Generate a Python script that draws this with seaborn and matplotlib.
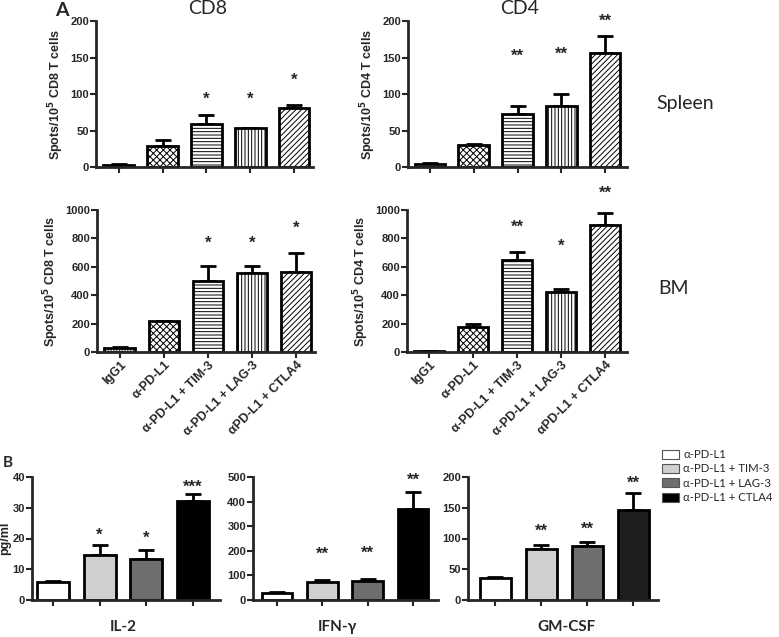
import numpy as np
import pandas as pd
import seaborn as sns
import matplotlib.pyplot as plt
from matplotlib.patches import Patch

# panel A categories
groups = ["IgG1", "α-PD-L1", "α-PD-L1 + TIM-3", "α-PD-L1 + LAG-3", "αPD-L1 + CTLA4"]
hatches = ["......", "xxxxx", "-----", "|||||", "//////"]

cd8_spleen = [3, 29, 59, 53, 81]
cd8_spleen_err = [0.5, 8, 12, 1, 4]
cd8_spleen_sig = ["", "", "*", "*", "*"]
cd8_spleen_sig_y = [0, 0, 93, 93, 119]

cd4_spleen = [4, 30, 73, 84, 156]
cd4_spleen_err = [1, 2, 10, 16, 24]
cd4_spleen_sig = ["", "", "**", "**", "**"]
cd4_spleen_sig_y = [0, 0, 152, 155, 200]

cd8_bm = [28, 218, 500, 555, 565]
cd8_bm_err = [4, 3, 105, 50, 133]
cd8_bm_sig = ["", "", "*", "*", "*"]
cd8_bm_sig_y = [0, 0, 765, 765, 870]

cd4_bm = [8, 176, 651, 426, 893]
cd4_bm_err = [2, 18, 52, 19, 86]
cd4_bm_sig = ["", "", "**", "*", "**"]
cd4_bm_sig_y = [0, 0, 880, 745, 1120]

# panel B
treatments = ["α-PD-L1", "α-PD-L1 + TIM-3", "α-PD-L1 + LAG-3", "α-PD-L1 + CTLA4"]
cytokines = ["IL-2", "IFN-γ", "GM-CSF"]
colors_b = ["white", "#cfcfcf", "#6e6e6e", "black"]

il2 = [5.8, 14.5, 13.3, 32.3]
il2_err = [0.3, 3.5, 3.0, 2.3]
il2_sig = ["", "*", "*", "***"]
il2_sig_y = [0, 21, 20, 36.5]

ifng = [28, 75, 78, 370]
ifng_err = [4, 8, 8, 70]
ifng_sig = ["", "**", "**", "**"]
ifng_sig_y = [0, 185, 188, 488]

gmcsf = [36, 83, 88, 147]
gmcsf_err = [2, 7, 6, 27]
gmcsf_sig = ["", "**", "**", "**"]
gmcsf_sig_y = [0, 112, 115, 190]

sns.set_style("ticks")
plt.rcParams["font.family"] = ["Liberation Sans", "DejaVu Sans"]
plt.rcParams["font.weight"] = "bold"
plt.rcParams["hatch.linewidth"] = 0.7
plt.rcParams["axes.linewidth"] = 2

W, H = 779, 637
fig = plt.figure(figsize=(W / 100, H / 100), dpi=100)
CAL = ["Lato", "DejaVu Sans"]


def make_ax(left, right, top, bottom):
    return fig.add_axes([left / W, 1 - bottom / H, (right - left) / W, (bottom - top) / H])


def draw(ax, cats, vals, errs, sig, sig_y, colors, hatch_list, ymax, yticks, xlim, width):
    df = pd.DataFrame({"cat": cats, "val": vals})
    sns.barplot(df, x="cat", y="val", hue="cat", palette=colors, legend=False,
                edgecolor="black", linewidth=2, width=width, ax=ax, zorder=2)
    if hatch_list:
        for p, h in zip(ax.patches, hatch_list):
            p.set_hatch(h)
    x = np.arange(len(vals))
    ax.errorbar(x, vals, yerr=[np.zeros(len(vals)), errs], fmt="none", ecolor="black",
                elinewidth=2, capsize=5.5, capthick=2, zorder=1)
    for xi, s, yy in zip(x, sig, sig_y):
        if s:
            ax.text(xi, yy, s, ha="center", va="center", fontsize=12, fontweight="bold")
    ax.set_ylim(0, ymax)
    ax.set_yticks(yticks, [str(t) for t in yticks], fontweight="bold", fontsize=8)
    ax.set_xlim(*xlim)
    ax.set(xlabel="", ylabel="")
    sns.despine(ax=ax)
    ax.tick_params(axis="both", length=4, width=1.5, pad=1)


white5 = ["white"] * 5
# A, spleen row
ax1 = make_ax(96, 313, 21, 167)
draw(ax1, groups, cd8_spleen, cd8_spleen_err, cd8_spleen_sig, cd8_spleen_sig_y, white5, hatches,
     200, [0, 50, 100, 150, 200], (-0.52, 4.43), 0.7)

ax2 = make_ax(408, 627, 21, 167)
draw(ax2, groups, cd4_spleen, cd4_spleen_err, cd4_spleen_sig, cd4_spleen_sig_y, white5, hatches,
     200, [0, 50, 100, 150, 200], (-0.5, 4.5), 0.7)

# A, BM row
ax3 = make_ax(97, 315, 210, 352)
draw(ax3, groups, cd8_bm, cd8_bm_err, cd8_bm_sig, cd8_bm_sig_y, white5, hatches,
     1000, [0, 200, 400, 600, 800, 1000], (-0.52, 4.43), 0.7)

ax4 = make_ax(407, 627, 210, 352)
draw(ax4, groups, cd4_bm, cd4_bm_err, cd4_bm_sig, cd4_bm_sig_y, white5, hatches,
     1000, [0, 200, 400, 600, 800, 1000], (-0.5, 4.5), 0.7)

for ax in (ax1, ax2):
    ax.set_xticks(range(len(groups)), [""] * len(groups))
for ax in (ax3, ax4):
    ax.set_xticks(range(len(groups)), groups, rotation=45, ha="right", rotation_mode="anchor",
                  fontsize=9, fontweight="bold")
for ax, cell in zip((ax1, ax2, ax3, ax4), ["CD8", "CD4", "CD8", "CD4"]):
    ax.set_ylabel(f"Spots/10$^\\mathbf{{5}}$ {cell} T cells", fontsize=9, fontweight="bold", labelpad=3)

# B row
ax5 = make_ax(32, 220, 477, 600)
draw(ax5, treatments, il2, il2_err, il2_sig, il2_sig_y, colors_b, None,
     40, [0, 10, 20, 30, 40], (-0.45, 3.58), 0.68)
ax5.set_ylabel("pg/ml", fontsize=9, fontweight="bold")
ax5.yaxis.set_label_coords(-0.11, 0.5)

ax6 = make_ax(253, 438, 477, 600)
draw(ax6, treatments, ifng, ifng_err, ifng_sig, ifng_sig_y, colors_b, None,
     500, [0, 100, 200, 300, 400, 500], (-0.53, 3.55), 0.68)

ax7 = make_ax(468, 658, 477, 600)
draw(ax7, treatments, gmcsf, gmcsf_err, gmcsf_sig, gmcsf_sig_y, ["white", "#cfcfcf", "#6e6e6e", "#1e1e1e"], None,
     200, [0, 50, 100, 150, 200], (-0.59, 3.54), 0.68)

for ax, name, xc in zip((ax5, ax6, ax7), cytokines, [123, 337, 567]):
    ax.set_xticks(range(len(treatments)), [""] * len(treatments))
    fig.text(xc / W, 1 - 627 / H, name, fontsize=11, fontweight="bold", family=CAL,
             ha="center", va="center")

# titles and panel letters
for txt, xc, yc in [("CD8", 208, 9), ("CD4", 520, 9), ("Spleen", 685, 104), ("BM", 673, 288)]:
    fig.text(xc / W, 1 - yc / H, txt, fontsize=14, ha="center", va="center", family=CAL,
             fontweight="normal")
fig.text(62 / W, 1 - 10 / H, "A", fontsize=14, ha="center", va="center", fontweight="bold", family=CAL)
fig.text(8 / W, 1 - 463 / H, "B", fontsize=11, ha="center", va="center", fontweight="bold", family=CAL)

handles = [Patch(facecolor=c, edgecolor="#555555", linewidth=0.8) for c in colors_b]
fig.legend(handles, treatments, loc="upper left", bbox_to_anchor=(662 / W, 1 - 449 / H),
           frameon=False, handlelength=1.5, handleheight=0.85, handletextpad=0.35,
           labelspacing=0.3, borderaxespad=0, borderpad=0,
           prop={"family": CAL, "size": 8.2, "weight": "normal"})

fig.savefig("out.png", dpi=100)
